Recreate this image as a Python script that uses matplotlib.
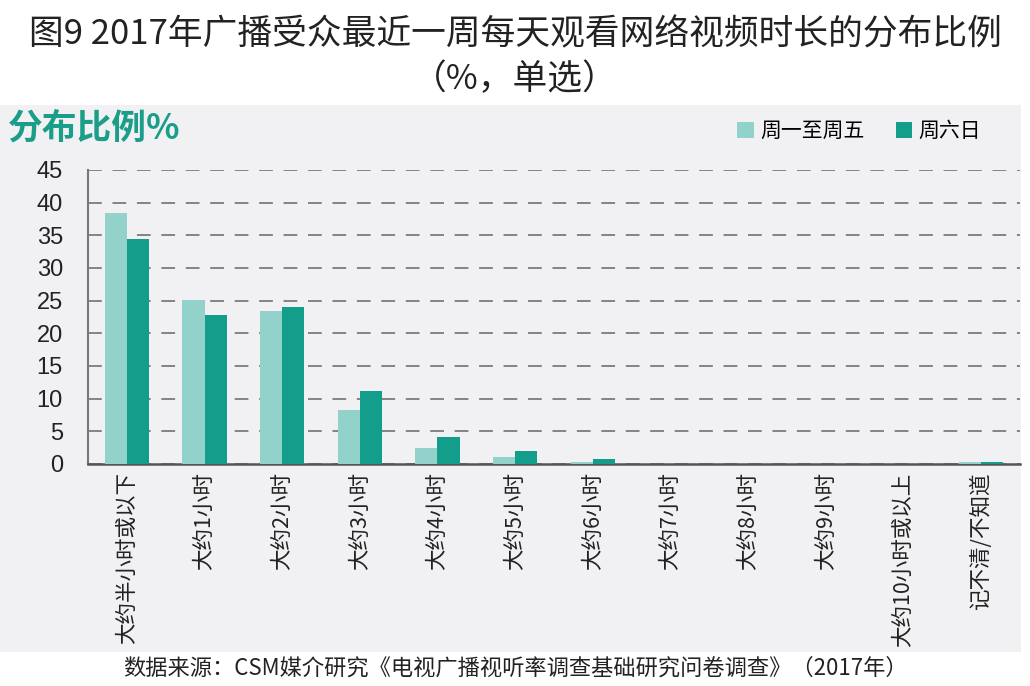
import matplotlib.pyplot as plt
import numpy as np

plt.rcParams['font.family'] = ['Noto Sans CJK SC', 'DejaVu Sans']

categories = ['大约半小时或以下', '大约1小时', '大约2小时', '大约3小时', '大约4小时',
              '大约5小时', '大约6小时', '大约7小时', '大约8小时', '大约9小时',
              '大约10小时或以上', '记不清/不知道']
weekday = [38.4, 25.1, 23.4, 8.2, 2.5, 1.0, 0.35, 0, 0, 0, 0, 0.3]
weekend = [34.4, 22.8, 24.0, 11.1, 4.1, 2.0, 0.7, 0, 0, 0, 0, 0.3]
series_names = ['周一至周五', '周六日']
yticks = [0, 5, 10, 15, 20, 25, 30, 35, 40, 45]

light = '#93d2ca'
dark = '#139e8c'

W, H = 1030, 686
fig = plt.figure(figsize=(W / 100, H / 100), dpi=100)
fig.patch.set_facecolor('white')

# gray panel behind the chart
bg = fig.add_axes([0, 1 - 652 / H, 1021 / W, (652 - 105) / H], zorder=-1)
bg.set_facecolor('#f1f1f3')
bg.set_xticks([])
bg.set_yticks([])
for s in bg.spines.values():
    s.set_visible(False)

ax = fig.add_axes([88 / W, 1 - 464 / H, (1020 - 88) / W, (464 - 170) / H])
ax.set_facecolor('none')

x = np.arange(len(categories))
bw = 0.285
ax.bar(x - bw / 2, weekday, bw, color=light, label=series_names[0], zorder=3)
ax.bar(x + bw / 2, weekend, bw, color=dark, label=series_names[1], zorder=3)

ax.set_xlim(-0.5, len(categories) - 0.5)
ax.set_ylim(0, 45)
ax.set_yticks(yticks)
ax.set_yticklabels([str(t) for t in yticks], fontsize=17, color='#222222',
                   family=['Liberation Sans', 'DejaVu Sans'])
ax.yaxis.grid(True, linestyle=(0, (9, 7)), color='#666666', linewidth=1.1, zorder=0)
ax.set_xticks(x)
ax.set_xticklabels(categories, rotation=90, fontsize=15.5, color='#222222', va='top')
ax.tick_params(axis='both', length=0, pad=6)
ax.tick_params(axis='y', pad=18)

for s in ['top', 'right']:
    ax.spines[s].set_visible(False)
ax.spines['left'].set_color('#777777')
ax.spines['left'].set_linewidth(1.5)
ax.spines['bottom'].set_color('#555555')
ax.spines['bottom'].set_linewidth(1.8)

fig.text(0.5, 1 - 35 / H, '图9 2017年广播受众最近一周每天观看网络视频时长的分布比例',
         ha='center', va='center', fontsize=25, color='#222222')
fig.text(0.5, 1 - 80 / H, '（%，单选）', ha='center', va='center',
         fontsize=25, color='#222222')
fig.text(8 / W, 1 - 128 / H, '分布比例%', ha='left', va='center', fontsize=25,
         color='#1a9e8a', fontweight='bold')

leg = fig.legend(loc='center right', bbox_to_anchor=(1000 / W, 1 - 131 / H), ncol=2,
                 frameon=False, fontsize=15, handlelength=0.8, handleheight=0.8,
                 handletextpad=0.3, columnspacing=1.5)

fig.text(0.5, 1 - 668 / H,
         '数据来源：CSM媒介研究《电视广播视听率调查基础研究问卷调查》（2017年）',
         ha='center', va='center', fontsize=16, color='#222222')

fig.savefig('out.png', dpi=100, facecolor='white')
